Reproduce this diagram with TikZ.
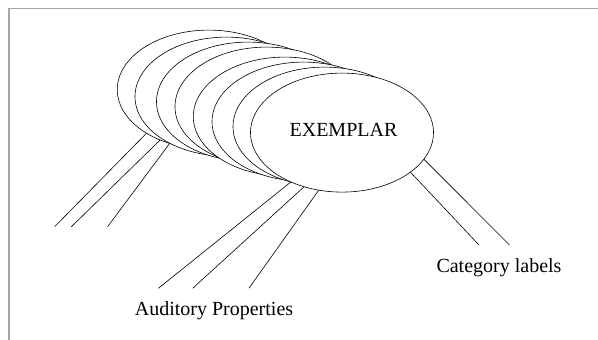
\documentclass[tikz,border=0pt]{standalone}
\usepackage{fontspec}
\setmainfont{Liberation Serif}
\usetikzlibrary{shapes.geometric}

\begin{document}
\begin{tikzpicture}[x=1pt, y=-1pt,
        layer/.style={ellipse, draw, fill=white, line width=0.6pt, minimum width=183pt, minimum height=119pt, inner sep=0pt, outer sep=0pt},
        wire/.style={line width=0.6pt},
        caption/.style={anchor=base, font=\fontsize{20}{24}\selectfont}]
    \useasboundingbox (0,0) rectangle (598,340);
    % Draw the frame on top and left
    \draw[gray!70, line width=1.2pt] (9,340) -- (9,8.5) -- (598,8.5);

    % Draw the stack of ellipses, back to front
    \foreach \x/\y [count=\i] in {208.8/89.6, 226.5/96.6, 248/101.6, 266.5/106.6, 284.8/116.6, 303.5/121.6, 324.5/126.6, 342/132.6} {
            \node[layer] (e\i) at (\x,\y) {};
        }
    \node[caption] (exemplar) at ([xshift=1.5pt,yshift=-3.4pt]e8.center) {EXEMPLAR};

    % Loose ends of the lines
    \coordinate (l1) at (54.6,226.7);
    \coordinate (l2) at (71.4,226.7);
    \coordinate (l3) at (107.6,226.7);
    \coordinate (m1) at (158.4,288.3);
    \coordinate (m2) at (192.7,288.3);
    \coordinate (m3) at (248.9,288.3);
    \coordinate (r1) at (509.5,245);
    \coordinate (r2) at (479,245);

    % Lines from the back ellipse
    \foreach \a/\c in {215/l1, 226/l2, 234/l3} {
            \draw[wire] (e1.\a) -- (\c);
        }
    % Lines from the front ellipse
    \foreach \a/\c in {224/m1, 235/m2, 248/m3, 342/r1, 330/r2} {
            \draw[wire] (e8.\a) -- (\c);
        }

    % Add text
    \node[caption] (auditory) at (214,315) {Auditory Properties};
    \node[caption] (category) at (499,272.7) {Category labels};
\end{tikzpicture}
\end{document}
